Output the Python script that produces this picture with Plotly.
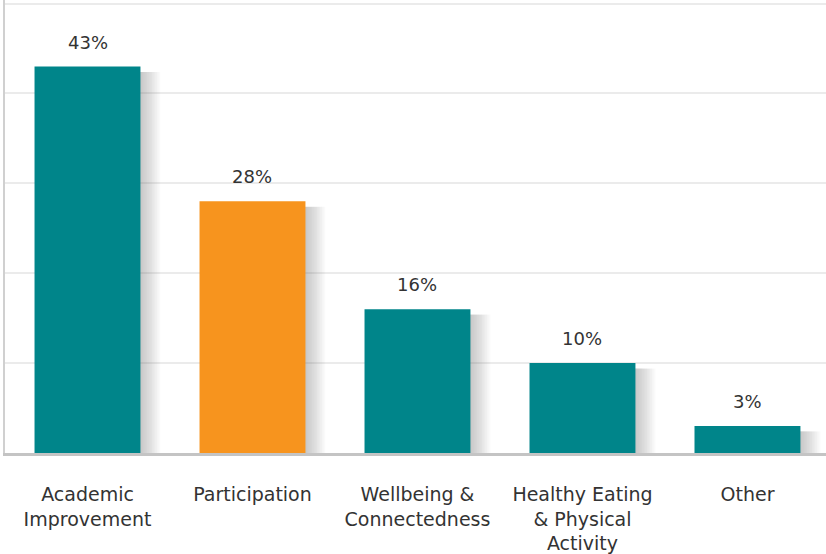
import plotly.graph_objects as go

categories = ["Academic<br>Improvement", "Participation", "Wellbeing &<br>Connectedness",
              "Healthy Eating<br>& Physical<br>Activity", "Other"]
values = [43, 28, 16, 10, 3]
colors = ["#00858A", "#F7941E", "#00858A", "#00858A", "#00858A"]

FONT = "DejaVu Sans, sans-serif"
TEXT = "#333333"
BAR_W = 0.642

fig = go.Figure()

# soft drop shadow on the right side of each bar, built from stacked translucent bars
for k in range(1, 13):
    fig.add_trace(go.Bar(
        x=categories, y=[v - 0.6 for v in values],
        width=0.004 + k * 0.01, offset=BAR_W / 2 - 0.004,
        marker=dict(color="rgba(100,100,100,0.035)", line=dict(width=0)),
        hoverinfo="skip", showlegend=False,
    ))

fig.add_trace(go.Bar(
    x=categories, y=values, width=BAR_W, offset=-BAR_W / 2,
    marker=dict(color=colors, line=dict(width=0)),
    hoverinfo="skip", showlegend=False,
))

for c, v in zip(categories, values):
    fig.add_annotation(x=c, y=v, text=f"{v}%", showarrow=False, yanchor="bottom",
                       yshift=12, font=dict(family=FONT, size=18, color=TEXT))

fig.update_layout(
    width=826, height=554, barmode="overlay",
    margin=dict(l=5, r=0, t=0, b=98),
    paper_bgcolor="white", plot_bgcolor="white",
    font=dict(family=FONT, size=19, color=TEXT),
    xaxis=dict(range=[-0.5, 4.476], showline=True, linecolor="#c4c4c4", linewidth=3,
               showgrid=False, ticks="", ticklabelstandoff=22,
               tickfont=dict(family=FONT, size=19, color=TEXT)),
    yaxis=dict(range=[0, 50.4], dtick=10, showgrid=True, gridcolor="#ebebeb", gridwidth=1.5,
               showline=True, linecolor="#d0d0d0", linewidth=2, showticklabels=False,
               zeroline=False, ticks=""),
)

fig.write_html("out.html")
